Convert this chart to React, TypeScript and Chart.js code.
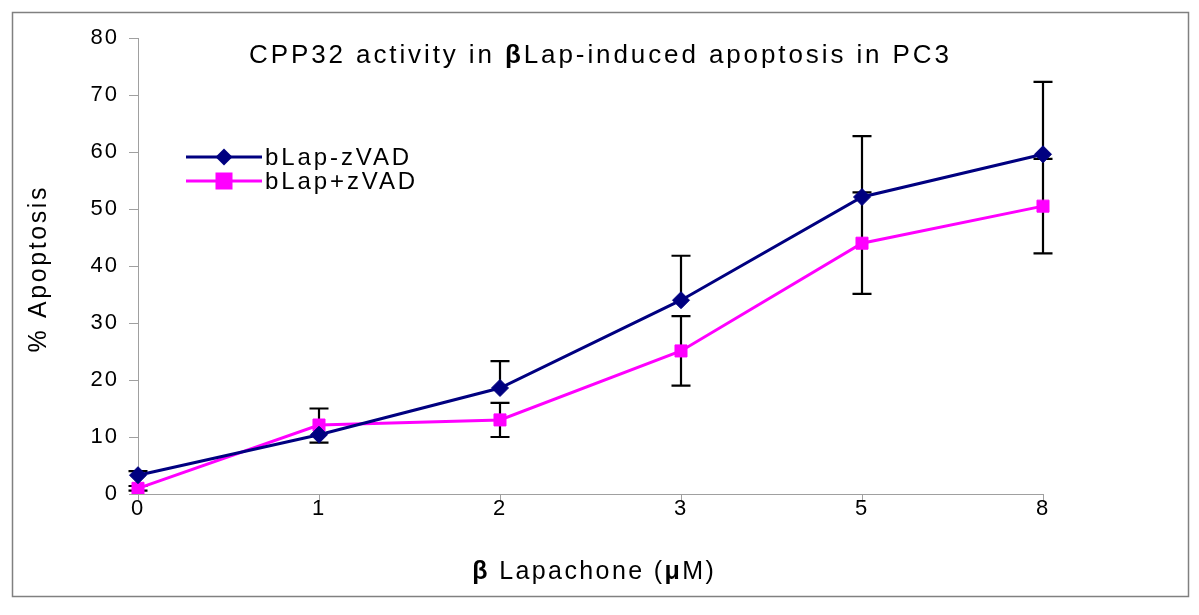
import React, { useEffect, useRef } from "react";
import { Chart, registerables } from "chart.js";

Chart.register(...registerables);

const categories = ["0", "1", "2", "3", "5", "8"];
const seriesMinus = [3.3, 10.4, 18.6, 34.0, 52.1, 59.6]; // bLap-zVAD
const seriesPlus = [1.0, 12.1, 13.0, 25.1, 44.0, 50.5]; // bLap+zVAD
const minusErrUp = [0.7, 0, 4.7, 7.8, 10.7, 12.7];
const minusErrDown = [0, 0, 0, 0, 0, 0];
const plusErrUp = [0.4, 2.9, 3.0, 6.1, 8.9, 8.3];
const plusErrDown = [0.4, 3.1, 3.0, 6.1, 8.9, 8.3];
const yTicks = [0, 10, 20, 30, 40, 50, 60, 70, 80];

const NAVY = "#000080";
const MAGENTA = "#ff00ff";
const FONT = "'Liberation Sans', Arial, sans-serif";

type Seg = { t: string; bold?: boolean };

function drawSegs(ctx: CanvasRenderingContext2D, segs: Seg[], size: number, cx: number, cy: number, spacing: number) {
  ctx.textBaseline = "alphabetic";
  ctx.textAlign = "left";
  (ctx as any).letterSpacing = "0px";
  const widths = segs.map((s) => {
    ctx.font = `${s.bold ? "bold " : ""}${size}px ${FONT}`;
    return ctx.measureText(s.t).width + spacing * [...s.t].length;
  });
  const total = widths.reduce((a, b) => a + b, 0) - spacing;
  let x = cx - total / 2;
  (ctx as any).letterSpacing = `${spacing}px`;
  segs.forEach((s, i) => {
    ctx.font = `${s.bold ? "bold " : ""}${size}px ${FONT}`;
    ctx.fillText(s.t, x, cy);
    x += widths[i];
  });
  (ctx as any).letterSpacing = "0px";
}

const spacingPlugin = {
  id: "spacing",
  beforeDraw(chart: any) {
    (chart.ctx as any).letterSpacing = "2px";
  },
  beforeDatasetsDraw(chart: any) {
    (chart.ctx as any).letterSpacing = "0px";
  },
};

const errorBarPlugin = {
  id: "errorBars",
  beforeDatasetsDraw(chart: any) {
    const ctx = chart.ctx as CanvasRenderingContext2D;
    const xs = chart.scales.x;
    const ys = chart.scales.y;
    const sets = [
      { vals: seriesMinus, up: minusErrUp, down: minusErrDown },
      { vals: seriesPlus, up: plusErrUp, down: plusErrDown },
    ];
    ctx.save();
    ctx.strokeStyle = "#000";
    ctx.lineWidth = 2.2;
    sets.forEach((s) => {
      s.vals.forEach((v, i) => {
        const x = xs.getPixelForValue(i);
        const y0 = ys.getPixelForValue(v);
        const cap = 9.5;
        if (s.up[i] > 0) {
          const y1 = ys.getPixelForValue(v + s.up[i]);
          ctx.beginPath();
          ctx.moveTo(x, y0);
          ctx.lineTo(x, y1);
          ctx.moveTo(x - cap, y1);
          ctx.lineTo(x + cap, y1);
          ctx.stroke();
        }
        if (s.down[i] > 0) {
          const y2 = ys.getPixelForValue(v - s.down[i]);
          ctx.beginPath();
          ctx.moveTo(x, y0);
          ctx.lineTo(x, y2);
          ctx.moveTo(x - cap, y2);
          ctx.lineTo(x + cap, y2);
          ctx.stroke();
        }
      });
    });
    ctx.restore();
  },
};

const decorPlugin = {
  id: "decor",
  afterDraw(chart: any) {
    const ctx = chart.ctx as CanvasRenderingContext2D;
    ctx.save();
    (ctx as any).letterSpacing = "0px";
    // outer border
    ctx.strokeStyle = "#808080";
    ctx.lineWidth = 1.5;
    ctx.strokeRect(12.5, 12.5, 1176, 584);
    ctx.fillStyle = "#000";
    // title
    drawSegs(
      ctx,
      [
        { t: "CPP32 activity in " },
        { t: "β", bold: true },
        { t: "Lap-induced apoptosis in PC3" },
      ],
      26,
      599,
      63,
      2.9
    );
    // x axis title
    drawSegs(
      ctx,
      [{ t: "β", bold: true }, { t: " Lapachone (" }, { t: "μ", bold: true }, { t: "M)" }],
      25,
      593,
      579,
      2.4
    );
    // y axis title
    ctx.save();
    ctx.translate(46, 270);
    ctx.rotate(-Math.PI / 2);
    drawSegs(ctx, [{ t: "% Apoptosis" }], 25, 0, 0, 2.6);
    ctx.restore();
    // legend
    const items = chart.data.datasets.map((d: any) => d);
    items.forEach((d: any, i: number) => {
      const y = 157 + i * 24;
      ctx.strokeStyle = d.borderColor;
      ctx.lineWidth = 3;
      ctx.beginPath();
      ctx.moveTo(186, y);
      ctx.lineTo(262, y);
      ctx.stroke();
      ctx.fillStyle = d.pointBackgroundColor;
      if (d.pointStyle === "rectRot") {
        const r = 8.5;
        ctx.beginPath();
        ctx.moveTo(224, y - r);
        ctx.lineTo(224 + r, y);
        ctx.lineTo(224, y + r);
        ctx.lineTo(224 - r, y);
        ctx.closePath();
        ctx.fill();
      } else {
        ctx.fillRect(224 - 8.5, y - 8.5, 17, 17);
      }
      ctx.fillStyle = "#000";
      ctx.font = `24px ${FONT}`;
      ctx.textAlign = "left";
      ctx.textBaseline = "middle";
      (ctx as any).letterSpacing = "2.9px";
      ctx.fillText(d.label, 265, y + 1);
      (ctx as any).letterSpacing = "0px";
    });
    ctx.restore();
  },
};

export default function App() {
  const ref = useRef<HTMLCanvasElement | null>(null);
  useEffect(() => {
    document.body.style.margin = "0";
    const canvas = ref.current!;
    const chart = new Chart(canvas, {
      type: "line",
      data: {
        labels: categories,
        datasets: [
          {
            label: "bLap-zVAD",
            data: seriesMinus,
            borderColor: NAVY,
            backgroundColor: NAVY,
            pointBackgroundColor: NAVY,
            pointBorderColor: NAVY,
            pointStyle: "rectRot",
            pointRadius: 8.5,
            pointBorderWidth: 1,
            borderWidth: 3,
            tension: 0,
          },
          {
            label: "bLap+zVAD",
            data: seriesPlus,
            borderColor: MAGENTA,
            backgroundColor: MAGENTA,
            pointBackgroundColor: MAGENTA,
            pointBorderColor: MAGENTA,
            pointStyle: "rect",
            pointRadius: 8.5,
            pointBorderWidth: 1,
            borderWidth: 3,
            tension: 0,
          },
        ],
      },
      options: {
        responsive: false,
        animation: false,
        events: [],
        layout: { padding: { left: 0, top: 38, right: 156, bottom: 0 } },
        plugins: {
          legend: { display: false },
          title: { display: false },
          tooltip: { enabled: false },
        },
        scales: {
          x: {
            type: "category",
            offset: false,
            grid: { drawOnChartArea: false, drawTicks: true, tickLength: 8, color: "#a0a0a0" },
            border: { color: "#a0a0a0", width: 1 },
            ticks: { color: "#000", font: { family: FONT, size: 22, lineHeight: 1 }, padding: -4, maxRotation: 0 },
            afterFit: (s: any) => {
              s.height = 121;
            },
          },
          y: {
            min: 0,
            max: 80,
            afterBuildTicks: (s: any) => {
              s.ticks = yTicks.map((v) => ({ value: v }));
            },
            grid: { drawOnChartArea: false, drawTicks: true, tickLength: 9, color: "#a0a0a0" },
            border: { color: "#a0a0a0", width: 1 },
            ticks: { color: "#000", font: { family: FONT, size: 22 }, padding: 10 },
            afterFit: (s: any) => {
              s.width = 138;
            },
          },
        },
      },
      plugins: [spacingPlugin, errorBarPlugin, decorPlugin],
    });
    return () => chart.destroy();
  }, []);
  return (
    <div style={{ width: 1199, height: 615, background: "#fff" }}>
      <canvas ref={ref} width={1199} height={615} style={{ display: "block" }} />
    </div>
  );
}
